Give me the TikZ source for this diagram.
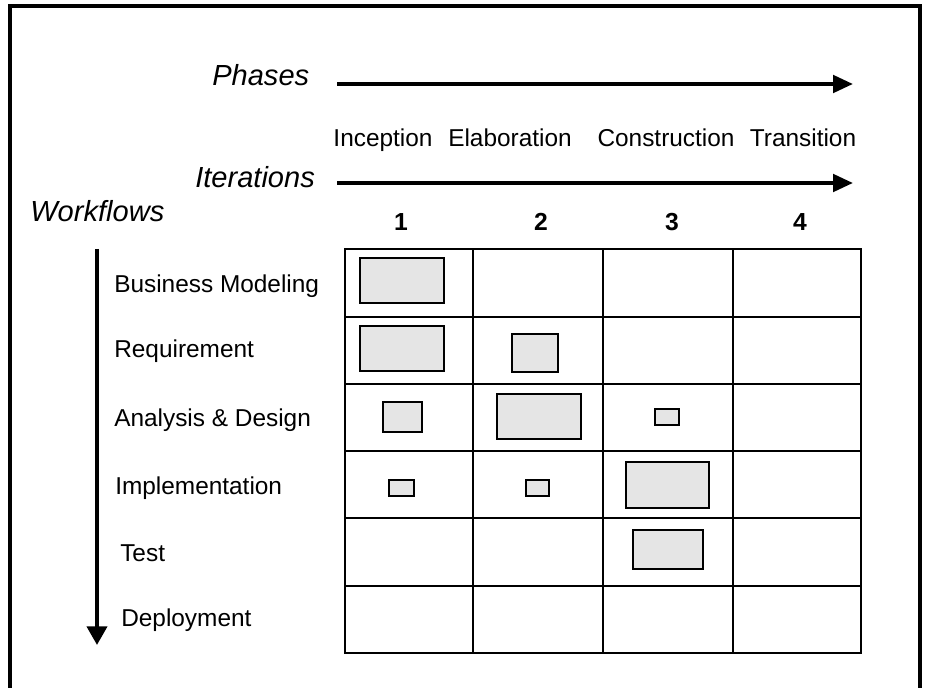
\documentclass[tikz,border=0pt]{standalone}
\usepackage{fontspec}
\setmainfont{Liberation Sans}
\usetikzlibrary{arrows.meta}

\tikzset{
  lbl/.style={inner sep=0pt, anchor=base west, font=\fontsize{18.3}{22}\selectfont},
  head/.style={inner sep=0pt, anchor=base west, font=\fontsize{21.8}{26}\selectfont\itshape},
  phase/.style={inner sep=0pt, anchor=base, font=\fontsize{18.3}{22}\selectfont},
  num/.style={inner sep=0pt, anchor=base, font=\fontsize{18.5}{22}\selectfont\bfseries},
  flow/.style={line width=3pt, -{Triangle[length=15pt,width=13pt]}},
  down/.style={line width=3pt, -{Triangle[length=14pt,width=15pt]}},
  gridline/.style={line width=1.4pt},
  gridframe/.style={line width=2.2pt},
  act/.style={draw, line width=1.5pt, fill=black!10},
  frame/.style={line width=3.5pt}
}

\begin{document}
\begin{tikzpicture}[x=0.75pt, y=-0.75pt]
  \useasboundingbox (0,0) rectangle (925,688);
  \clip (0,0) rectangle (925,688);
  \fill[white] (0,0) rectangle (925,688);

  % outer frame (runs on below the page)
  \draw[frame] (10,720) -- (10,6) -- (920,6) -- (920,720);

  % heading labels
  \node[head] (phases) at (212,86) {Phases};
  \node[head] (iters) at (195,188) {Iterations};
  \node[head] (wflows) at (30,222) {Workflows};

  % time arrows
  \coordinate (phS) at (337,84);
  \coordinate (phE) at (853,84);
  \draw[flow] (phS) -- (phE);
  \coordinate (itS) at (337,183);
  \coordinate (itE) at (853,183);
  \draw[flow] (itS) -- (itE);

  % phase names
  \node[phase] (inc) at (383,147) {Inception};
  \node[phase] (ela) at (510,147) {Elaboration};
  \node[phase] (con) at (666,147) {Construction};
  \node[phase] (tra) at (803,147) {Transition};

  % iteration numbers
  \node[num] (n1) at (401,230) {1};
  \node[num] (n2) at (541,230) {2};
  \node[num] (n3) at (672,230) {3};
  \node[num] (n4) at (800,230) {4};

  % workflow arrow
  \coordinate (wfS) at (97,249);
  \coordinate (wfE) at (97,645);
  \draw[down] (wfS) -- (wfE);

  % workflow names
  \node[lbl] (bm)  at (114,292) {Business Modeling};
  \node[lbl] (req) at (114,357) {Requirement};
  \node[lbl] (ad)  at (114,426) {Analysis \& Design};
  \node[lbl] (imp) at (115,494) {Implementation};
  \node[lbl] (tst) at (120,561) {Test};
  \node[lbl] (dep) at (121,626) {Deployment};

  % grid
  \foreach \x in {473,603,733}
    \draw[gridline] (\x,249) -- (\x,653);
  \foreach \y in {317,384,451,518,586}
    \draw[gridline] (345,\y) -- (861,\y);
  \draw[gridframe] (345,249) rectangle (861,653);

  % activity blocks
  \draw[act] (360,258) rectangle (444,303);
  \draw[act] (360,326) rectangle (444,371);
  \draw[act] (512,334) rectangle (558,372);
  \draw[act] (383,402) rectangle (422,432);
  \draw[act] (497,394) rectangle (581,439);
  \draw[act] (655,409) rectangle (679,425);
  \draw[act] (389,480) rectangle (414,496);
  \draw[act] (526,480) rectangle (549,496);
  \draw[act] (626,462) rectangle (709,508);
  \draw[act] (633,530) rectangle (703,569);
\end{tikzpicture}
\end{document}
